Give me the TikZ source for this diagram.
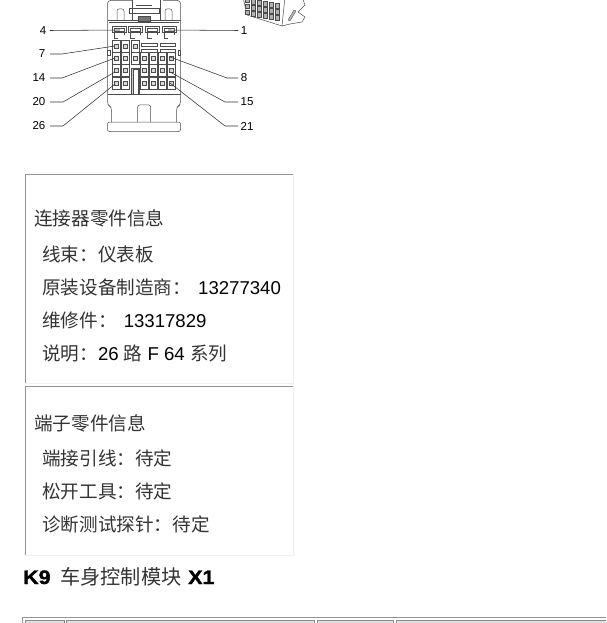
\documentclass[tikz,border=0pt]{standalone}
\usepackage{fontspec}
\setmainfont{Liberation Sans}
\newfontfamily\cjk{Noto Sans CJK SC}
\newfontfamily\heavy[FakeStretch=1.1,FakeBold=1.5]{Liberation Sans Bold}
\newcommand{\zh}[1]{{\cjk\color{black!80}#1}}
\tikzset{
    leader/.style={draw=black!80, line width=0.55pt},
    part/.style={draw=black!70, line width=0.5pt},
    pinnum/.style={font=\fontsize{11.5}{13}\selectfont, inner sep=0pt},
    info/.style={anchor=base west, inner sep=0pt, font=\fontsize{18.6}{22}\selectfont},
    dark/.style={draw=black!42, line width=1pt},
    pale/.style={draw=black!6, line width=1pt},
    tabcell/.style={fill=black!12, draw=black!45, line width=0.5pt},
}
\newcommand{\cavity}[2]{
\draw[part] (#1-4,#2-6) rectangle (#1+4,#2+6);
\draw[part, fill=black!15] (#1-2,#2-2) rectangle (#1+2,#2+2);
}
\begin{document}
\begin{tikzpicture}[x=1pt,y=-1pt]
\useasboundingbox (0,0) rectangle (606,623);
\clip (0,0) rectangle (606,623);
% connector body
\draw[part, rounded corners=3pt] (132,0.5)--(107.5,0.5)--(107.5,105)--(111.5,107)--(111.5,122);
\draw[part, rounded corners=3pt] (163,0.5)--(180.5,0.5)--(180.5,105)--(176.5,107)--(176.5,122);
\draw[part, rounded corners=2pt] (107.5,122) rectangle (180.5,131.5);
\draw[part] (107.5,20)--(180.5,20);
\draw[part] (109,22)--(179,22);
\draw[part] (107.5,94)--(180.5,94);
\draw[part, rounded corners=2pt] (137.7,122)--(137.7,105)--(150.7,105)--(150.7,122);
\draw[part, rounded corners=2pt] (117,20)--(117,9)--(124,9)--(124,20);
\draw[part, rounded corners=2pt] (165,20)--(165,9)--(172,9)--(172,20);
\draw[part] (132,-3)--(132,20);
\draw[part] (160,-3)--(160,20);
\draw[part] (129,8) rectangle (159,13);
\draw[part, line width=0.8pt] (136,5)--(152,5);
\draw[part, fill=black!55] (138,16) rectangle (150,21);
\draw[part] (107.5,50) rectangle (110,55);
\draw[part] (178,50) rectangle (180.5,55);
% latches
\foreach \i in {112,128.5,145.5,162} {
\draw[part] (\i,26) rectangle (\i+14,32);
\draw[part] (\i+2,28) rectangle (\i+12,31);
\draw[part] (\i+2,32)--(\i+2,38)--(\i+6,38);
\draw[part] (\i+12,32)--(\i+12,35);
}
% flat slots
\foreach \j in {43,49.5} {
\draw[part] (141.5,\j) rectangle (157,\j+3);
\draw[part] (160,\j) rectangle (175.5,\j+3);
}
% cavities
\foreach \i in {116.7,125.7,135} {
\cavity{\i}{46}
}
\foreach \i in {116.7,125.7,135,144,153.3,162.3,171.7} {
\cavity{\i}{58.3}
}
\foreach \j in {70.7,83.3} {
\foreach \i in {116.7,125.7,144,153.3,162.3,171.7} {
\cavity{\i}{\j}
}
}
\draw[part, fill=black!20] (131.5,68) rectangle (139.5,94);
\draw[part, fill=white] (133,69.5) rectangle (138,94);
% small view
\draw[part, fill=white] (243,-3)--(247,15)--(282,26)--(290,24)--(302,22)--(305,17)--(298,12)--(305,5)--(302,-3);
\draw[part] (282,26)--(285,-3);
\foreach \i in {0,1,2,3,4,5} {
\foreach \j in {0,1,2} {
\draw[black!70, fill=black!30, line width=0.3pt] (245+\i*6,-2+\j*6+\i*1.1) rectangle +(4.6,4.6);
}
}
\draw[black!70, fill=black!30, line width=0.3pt] (288,20)--(294,10)--(296,11)--(290,21)--cycle;
% pin labels
\node[pinnum] (p4) at (43,30.5) {4};
\node[pinnum] (p7) at (42,54) {7};
\node[pinnum] (p14) at (39,78) {14};
\node[pinnum] (p20) at (39,102) {20};
\node[pinnum] (p26) at (39,126) {26};
\node[pinnum] (p1) at (244,30.5) {1};
\node[pinnum] (p8) at (244,78) {8};
\node[pinnum] (p15) at (247,102) {15};
\node[pinnum] (p21) at (247,126) {21};
\coordinate (c4) at (120,30);
\coordinate (c7) at (115,46);
\coordinate (c14) at (115,58);
\coordinate (c20) at (115,72);
\coordinate (c26) at (115,84);
\coordinate (c1) at (168,30);
\coordinate (c8) at (170,57);
\coordinate (c15) at (170,72);
\coordinate (c21) at (170,83);
\draw[leader] (50,0 |- p4.east)--(c4);
\draw[leader] (238,0 |- p1.west)--(c1);
\foreach \n/\b in {7/62,14/62,20/63,26/63} {
\draw[leader] (50,0 |- p\n.east)--(\b,0 |- p\n.east)--(c\n);
}
\foreach \n/\b in {8/227,15/225,21/225} {
\draw[leader] (238,0 |- p\n.west)--(\b,0 |- p\n.west)--(c\n);
}
% info boxes
\draw[pale] (293,174)--(293,383)--(25,383);
\draw[dark] (25,383)--(25,174)--(293,174);
\draw[pale] (293,386)--(293,555)--(25,555);
\draw[dark] (25,555)--(25,386)--(293,386);
\node[info] (conntitle) at (34,225) {\zh{连接器零件信息}};
\node[info] (harness) at (42,261) {\zh{线束：仪表板}};
\node[info] (oem) at (42,294) {\zh{原装设备制造商：}\hspace{2pt} 13277340};
\node[info] (service) at (42,327) {\zh{维修件：}\hspace{2pt} 13317829};
\node[info] (desc) at (42,360) {\zh{说明：}26 \zh{路} F 64 \zh{系列}};
\node[info] (termtitle) at (34,430) {\zh{端子零件信息}};
\node[info] (lead) at (42,465) {\zh{端接引线：待定}};
\node[info] (release) at (42,498) {\zh{松开工具：待定}};
\node[info] (probe) at (42,531) {\zh{诊断测试探针：待定}};
% heading
\node[info, font=\fontsize{19.5}{22}\selectfont\heavy] (headk) at (23,584) {K9};
\node[info, font=\fontsize{20.2}{24}\selectfont] (headname) at (60,584) {\zh{车身控制模块}};
\node[info, font=\fontsize{19.5}{22}\selectfont\heavy] (headx) at (188,584) {X1};
% table top
\draw[dark] (22,623)--(22,617.5)--(606,617.5);
\foreach \a/\b in {25/64,66.5/314,317/393.5,396/608} {
\draw[tabcell] (\a,625) rectangle (\b,620.5);
}
\end{tikzpicture}
\end{document}
